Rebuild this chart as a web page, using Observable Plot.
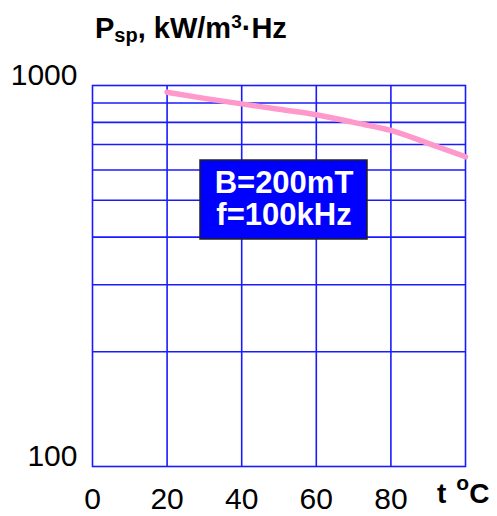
<!DOCTYPE html>
<html>
<head>
<meta charset="utf-8">
<script src="https://cdn.jsdelivr.net/npm/d3@7"></script>
<script src="https://cdn.jsdelivr.net/npm/@observablehq/plot@0.6"></script>
<style>
  html, body { margin: 0; padding: 0; background: #fff; }
  #wrap { position: relative; width: 497px; height: 516px; font-family: "Liberation Sans", Arial, sans-serif; }
  #title { position: absolute; left: 95px; top: 13px; font-size: 29px; font-weight: bold; line-height: 30px; color: #000; white-space: nowrap; }
  #title sub { font-size: 20px; vertical-align: -4px; line-height: 0; }
  #title sup { font-size: 19px; vertical-align: 10px; line-height: 0; }
  #chart { position: absolute; left: 0; top: 50px; }
</style>
</head>
<body>
<div id="wrap">
  <div id="title">P<sub>sp</sub>, kW/m<sup>3</sup>·Hz</div>
  <div id="chart"></div>
</div>
<script>
const temperature = [20, 30, 40, 50, 60, 70, 80, 90, 100];
const power = [960, 925, 895, 866, 838, 800, 762, 705, 650];
const xTicks = [0, 20, 40, 60, 80];
const xGrid = [20, 40, 60, 80];
const yTicks = [100, 1000];
const yGrid = [200, 300, 400, 500, 600, 700, 800, 900];
const noteLines = ["B=200mT", "f=100kHz"];

const data = temperature.map((t, i) => ({t, p: power[i]}));
const blue = "#1a1aff";
const ff = "'Liberation Sans', Arial, sans-serif";

const chart = Plot.plot({
  width: 497,
  height: 466,
  marginLeft: 92,
  marginRight: 32,
  marginTop: 35,
  marginBottom: 50,
  style: {fontFamily: ff, background: "#fff", color: "#000"},
  x: {domain: [0, 100]},
  y: {type: "log", domain: [100, 1000]},
  marks: [
    Plot.gridX(xGrid, {stroke: blue, strokeOpacity: 1, strokeWidth: 1.6}),
    Plot.gridY(yGrid, {stroke: blue, strokeOpacity: 1, strokeWidth: 1.6}),
    Plot.frame({stroke: blue, strokeWidth: 1.6}),
    Plot.axisX(xTicks, {tickSize: 0, tickPadding: 21, fontSize: 30, label: null, tickFormat: d => String(d)}),
    Plot.axisY(yTicks, {tickSize: 0, tickPadding: 15, fontSize: 30, label: null, dy: -10, tickFormat: d => String(d)}),
    Plot.line(data, {x: "t", y: "p", stroke: "#ff99cc", strokeWidth: 5.5, curve: "monotone-x"})
  ]
});
document.getElementById("chart").appendChild(chart);

const svg = d3.select(chart);
// annotation box
const g = svg.append("g");
g.append("rect").attr("x", 200).attr("y", 110).attr("width", 167).attr("height", 79)
  .attr("fill", "#0000ff").attr("stroke", "#222").attr("stroke-width", 1.5);
g.selectAll("text.note").data(noteLines).join("text")
  .attr("class", "note")
  .attr("x", 284)
  .attr("y", (d, i) => 143 + i * 32)
  .attr("text-anchor", "middle")
  .attr("fill", "#fff")
  .attr("font-size", 31)
  .attr("font-weight", "bold")
  .attr("font-family", ff)
  .text(d => d);

// x axis unit label
const u = svg.append("text")
  .attr("x", 437).attr("y", 453)
  .attr("text-anchor", "start")
  .attr("font-size", 28).attr("font-weight", "bold")
  .attr("font-family", ff)
  .attr("fill", "#000");
u.append("tspan").text("t");
u.append("tspan").attr("dx", 10).attr("dy", -13).attr("font-size", 21).text("o");
u.append("tspan").attr("dy", 13).text("C");
</script>
</body>
</html>
